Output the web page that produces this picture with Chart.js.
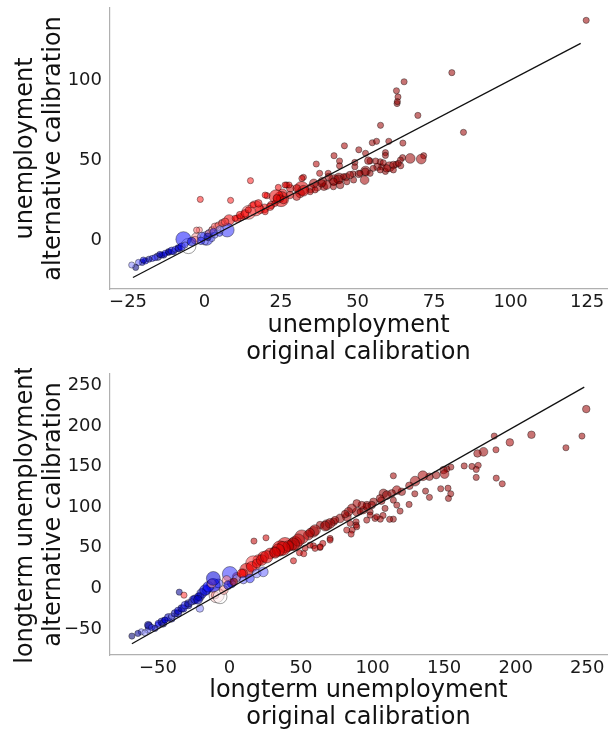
<!DOCTYPE html>
<html><head><meta charset="utf-8">
<script src="https://cdn.jsdelivr.net/npm/chart.js@4/dist/chart.umd.min.js"></script>
<style>
html,body{margin:0;padding:0;background:#fff;}
.box{position:absolute;left:0;width:608px;height:368px;}
</style></head>
<body>
<div class="box" style="top:0"><canvas id="c1" width="608" height="368"></canvas></div>
<div class="box" style="top:368px"><canvas id="c2" width="608" height="368"></canvas></div>
<script>
// ---------- Top panel: unemployment ----------
const topOrig = [
124.7,80.8,65.2,62.7,63.2,62.9,63.0,69.7,84.6,57.5,
60.2,64.8,54.8,56.2,45.7,50.4,52.6,42.3,59.1,59.1,
44.1,44.1,36.5,49.1,49.1,71.6,70.8,67.2,64.7,64.0,
64.1,62.6,60.4,59.1,57.9,56.5,55.1,57.4,54.1,55.9,
52.6,52.3,50.4,48.5,48.7,46.3,43.9,42.3,40.4,40.6,
37.6,38.5,39.0,36.8,35.7,34.6,32.3,31.7,31.2,30.1,
28.0,26.8,27.6,25.5,25.0,23.4,21.8,20.4,19.6,18.1,
16.6,15.0,14.4,13.1,11.8,10.7,8.5,8.0,7.4,5.8,
4.2,2.6,1.5,0.6,-1.4,-1.7,-2.8,-5.3,-6.9,-8.5,
-10.1,-11.7,-13.3,-15.3,-17.1,-19.3,-20.4,-21.6,-22.5,-23.8,
-14.0,-12.9,-11.8,-10.7,-9.6,-8.6,-7.5,-6.4,-3.1,-2.6,
-0.9,0.2,1.2,2.4,3.4,4.5,5.6,6.7,2.4,3.4,
4.9,10.0,11.6,13.2,14.3,15.9,17.6,19.8,21.4,23.0,
24.7,19.8,24.1,53.5,58.4,61.7,63.3,61.7,59.5,57.4,
54.1,52.5,50.8,47.5,45.4,43.7,42.1,46.5,44.3,42.1,
39.9,38.3,36.1,34.5,32.3,31.8,30.1,27.9,26.3,25.8,
23.6,-4.2,-1.2,1.0,3.0,-20.0,-18.2,-16.2,-14.6,5.0];
const topAlt = [
137.3,104.6,98.9,93.3,89.4,85.3,86.5,77.9,67.3,71.7,
61.7,60.6,60.8,61.7,58.9,56.4,54.2,52.7,54.6,52.9,
49.4,46.4,47.5,48.5,45.8,52.7,50.6,51.0,51.5,50.0,
46.4,47.3,45.8,42.9,45.8,45.8,44.8,48.9,49.4,49.4,
43.1,37.5,41.3,41.3,37.5,39.4,38.5,37.5,41.7,39.4,
41.7,36.5,33.3,33.3,35.4,32.3,39.2,32.3,29.2,27.1,
32.3,34.4,34.4,29.2,25.6,27.1,21.9,27.7,19.8,19.2,
19.8,37.1,17.3,15.6,14.2,13.3,24.8,12.5,6.25,10.6,
8.3,6.25,4.2,1.0,25.4,6.25,1.7,-3.75,0.5,-5.2,
-7.3,-7.7,-9.4,-10.4,-11.5,-13.1,-14.0,-14.0,-17.1,-15.6,
-9.4,-8.3,-7.3,-6.7,-5.8,-5.2,-4.2,-3.1,0.0,6.2,
2.1,-1.0,4.2,6.2,8.3,9.4,10.4,11.4,1.0,3.1,
4.2,13.6,15.6,16.7,18.8,21.9,22.9,17.7,20.8,22.9,
26.0,28.1,32.9,49.6,48.3,46.9,47.9,43.8,44.8,43.8,
41.7,42.7,41.7,40.6,39.6,37.9,36.4,36.4,34.4,33.3,
34.4,35.4,31.3,30.2,30.8,38.5,32.3,28.1,34.4,25.0,
26.1,-1.0,-0.5,2.0,5.0,-12.5,-12.0,-11.0,-9.0,6.5];
const topWeight = [
1,1,1,1,1,1,1,1,1,1,
1,1,1,1,1,1,1,1,1,1,
1,1,1,1,1,1,2.5,2.5,1,1,
1,1,2.5,1,1,1.5,1,1,1,1,
2.5,2,1.5,1,1,1.5,3,3,1,1.5,
1,2,1.5,2,2,2,1,5,2,1.5,
1.5,1,1,2,6,5,1.5,1,2,2,
6,1,5,2,1.5,1.5,1,3,5,1.5,
1.5,1.5,1.5,5,1,1,2,6,6,1.5,
1,1,1,1.5,1,1,1,1,1,1,
1,1,1,1.5,1,1,1.5,1,1.5,1,
2,1,1,1,1.5,1,1,1.5,1,1,
1,1,1.5,1.5,1,1,1.5,1,1.5,1,
1.5,1,1,1.5,1,1.5,1,1,1.5,1,
1,1.5,1,1.5,1,2,1.5,1,1.5,1,
2,1.5,1,1,3,1,1.5,1.5,1,1.5,
1.5,2,1.5,1.5,1.5,1,1,1,1,1.5];
// colour value (0 = navy ... 0.5 = white ... 1 = dark red)
const topShade = [
.95,.95,.95,.95,.95,.97,.97,.95,.95,.95,
.95,.95,.95,.95,.92,.95,.95,.92,.95,.97,
.92,.92,.9,.95,.95,.93,.93,.95,.95,.95,
.93,.95,.93,.95,.95,.97,.95,.95,.95,.95,
.97,.93,.97,.95,.95,.95,.95,.93,.9,.95,
.9,.92,.92,.9,.92,.9,.85,.82,.85,.85,
.85,.8,.8,.82,.8,.8,.8,.8,.78,.8,
.7,.72,.66,.75,.75,.72,.72,.78,.3,.62,
.62,.6,.35,.3,.72,.62,.6,.5,.27,.2,
.15,.2,.15,.08,.3,.25,.15,.35,.08,.38,
.2,.25,.1,.2,.3,.15,.25,.35,.62,.65,
.35,.4,.6,.62,.65,.65,.68,.7,.38,.35,
.3,.75,.78,.72,.78,.75,.78,.78,.8,.8,
.8,.75,.78,.95,.95,.95,.95,.95,.95,.95,
.97,.95,.95,.95,.95,.97,.95,.95,.95,.93,
.93,.95,.88,.88,.85,.85,.85,.85,.82,.82,
.82,.2,.3,.15,.3,.2,.1,.3,.15,.4];
const topLine = [-23.4, 122.9];
const topXTicks = [-25, 0, 25, 50, 75, 100, 125];
const topYTicks = [0, 50, 100];

// ---------- Bottom panel: longterm unemployment ----------
const botOrig = [
249.3,246.3,235.1,211.0,195.9,185.0,186.2,177.5,173.3,173.8,
172.4,169.4,164.0,172.4,186.4,190.6,154.7,151.9,149.6,150.3,
144.4,139.7,135.1,129.7,125.7,114.5,137.0,129.5,147.6,152.7,
154.6,153.0,139.7,125.5,119.2,114.5,111.9,107.3,105.4,106.1,
88.5,88.5,85.7,85.0,81.9,70.3,65.2,63.3,58.7,52.8,
48.9,44.7,51.9,107.6,100.6,96.0,93.6,89.0,82.0,77.3,
72.7,68.0,63.3,58.6,55.1,50.5,45.8,43.5,38.8,35.3,
31.8,28.3,23.6,20.1,16.6,12.0,9.6,5.0,0.3,1.5,
-2.0,-7.8,-9.0,-11.3,-16.0,-20.7,-20.7,-25.3,-28.8,-32.3,
-35.1,-31.8,-36.0,-40.6,-45.3,-46.5,-50.0,-56.3,-57.0,-61.6,
-64.0,-68.2,17.1,25.5,-59.1,-56.8,-54.4,-52.1,-49.8,-47.4,
-45.1,-42.8,-40.4,-38.1,-35.8,-33.4,-31.1,-28.8,-26.4,-24.1,
-21.8,-19.4,-17.1,-14.8,-12.4,-10.1,-6.6,-11.3,5.0,8.5,
15.5,19.0,22.5,26.0,9.7,14.3,19.0,23.6,120.4,116.9,
113.4,109.9,105.2,114.5,116.9,99.4,95.9,92.4,88.9,91.3,
98.3,101.7,108.7,85.5,83.1,80.8,73.8,70.3,66.8,59.8,
56.3,48.1,44.6,41.1,37.6,34.1,31.8,84.3,88.9,95.9,
98.3,102.9,70.3,63.3,59.8,56.3,-4.0,-1.0,3.0,-22.0];
const botAlt = [
220.8,187.6,173.2,189.2,179.8,187.6,170.7,168.2,166.2,151.5,
146.5,150.2,150.8,136.7,135.8,128.8,149.4,147.0,145.7,140.8,
139.5,137.5,138.7,132.1,126.4,138.7,119.8,116.5,122.7,123.4,
116.5,110.8,112.1,103.4,95.2,85.3,85.1,89.8,85.3,107.9,
82.0,78.0,71.8,66.9,71.8,61.5,55.4,50.5,52.5,49.6,
43.9,34.0,42.7,117.0,106.7,102.6,96.4,94.3,88.2,86.2,
82.0,78.0,78.0,69.7,65.6,63.5,55.4,53.4,53.4,49.2,
45.1,43.0,38.9,34.8,30.8,22.5,18.5,14.3,17.6,6.2,
10.3,6.2,-8.3,3.7,-2.1,-10.3,-24.7,-14.4,-20.6,-24.7,
-4.6,-8.3,-30.8,-37.0,-39.0,-43.1,-45.1,-46.4,-51.4,-53.4,
-55.4,-58.7,58.3,62.3,-54.7,-45.2,-48.0,-49.3,-43.1,-41.1,
-39.0,-35.7,-34.1,-30.8,-27.6,-24.6,-20.6,-18.5,-16.5,-13.5,
-10.3,-6.2,-2.1,2.0,6.2,-8.3,-10.3,12.3,12.3,18.5,
26.6,30.8,34.9,38.9,10.2,12.3,18.5,20.4,119.0,121.0,
117.0,114.9,110.8,108.7,102.6,102.6,100.5,102.6,104.7,94.3,
94.3,86.2,98.5,98.5,94.3,91.5,84.1,80.0,76.7,71.8,
68.5,59.5,54.6,52.1,49.3,47.2,43.8,80.0,75.9,84.1,
90.3,88.2,59.5,51.2,49.3,53.3,-2.0,4.0,8.0,-14.0];
const botWeight = [
1.5,1,1,1.5,1.5,1,1,2,1.5,1,
1,1,1,1,1,1,1,1,1.5,2,
1.5,1.5,2.5,2.5,1.5,1,1,1,1,1,
1,1,1,1,1,1,1,1,1,1.5,
1,1,1,1,1,1,1,1,1,1,
1,1,1,2,1.5,1.5,1.5,2,2,2,
1.5,3,1.5,3,2.5,5,5,3,6,6,
3,3,3,3,6,5,2,2,6,2,
2,2,6,5,2,2,1.5,2,1.5,1.5,
1,1,1.5,1.5,1,1.5,1,1.5,1,1,
1,1,1,1,1,1.5,1,1,1,1.5,
1,1.5,1,1.5,1.5,1.5,1.5,1.5,1,2,
1.5,2.5,3,3,2,1.5,5,5,1.5,2,
3,2,3,4,1.5,2,2,2.5,1.5,2,
1.5,2,1.5,1,1,1.5,1.5,1.5,1.5,1,
1,1,1,2,2,1.5,1.5,2.5,2.5,3,
2,4,4,3,5,4,3,1,1,1,
1,1,1,1,1,1,2,2,1.5,2];
const botShade = [
.95,.95,.95,.95,.92,.95,.92,.95,.95,.93,
.93,.95,.95,.95,.93,.93,.95,.95,.95,.93,
.95,.95,.92,.93,.93,.93,.97,.95,.95,.95,
.95,.95,.95,.95,.95,.95,.95,.93,.93,.95,
.93,.93,.9,.9,.9,.9,.88,.88,.88,.88,
.85,.85,.85,.97,.95,.93,.95,.93,.93,.95,
.93,.95,.93,.92,.9,.88,.85,.88,.82,.8,
.82,.8,.8,.75,.68,.82,.78,.85,.3,.25,
.62,.35,.55,.22,.3,.15,.38,.2,.15,.25,
.1,.7,.15,.2,.3,.1,.35,.15,.35,.38,
.1,.05,.88,.85,.4,.1,.3,.15,.25,.12,
.25,.15,.4,.12,.2,.12,.3,.1,.35,.15,
.25,.15,.2,.25,.6,.62,.5,.2,.4,.75,
.78,.8,.82,.82,.35,.3,.38,.35,.95,.93,
.97,.97,.95,.95,.95,.95,.95,.93,.93,.95,
.95,.93,.97,.93,.95,.95,.93,.95,.95,.92,
.9,.88,.9,.85,.85,.82,.85,.93,.93,.93,
.93,.93,.9,.88,.88,.88,.6,.2,.9,.15];
const botLine = [-68.2, 247.9];
const botXTicks = [-50, 0, 50, 100, 150, 200, 250];
const botYTicks = [-50, 0, 50, 100, 150, 200, 250];

// ---------- helpers ----------
const FONT = "'DejaVu Sans', sans-serif";
function seismic(t) {
  const st = [[0,0,0,0.3],[0.25,0,0,1],[0.5,1,1,1],[0.75,1,0,0],[1,0.5,0,0]];
  t = Math.max(0, Math.min(1, t));
  for (let i = 1; i < st.length; i++) {
    if (t <= st[i][0]) {
      const a = st[i-1], b = st[i], f = (t - a[0]) / (b[0] - a[0]);
      return [0,1,2].map(k => Math.round(255 * (a[k+1] + f * (b[k+1] - a[k+1]))));
    }
  }
  return [128,0,0];
}
function fmt(v) { return v < 0 ? '\u2212' + Math.abs(v) : String(v); }
function noPad(s) { s.paddingTop = 0; s.paddingBottom = 0; s.paddingLeft = 0; s.paddingRight = 0; }

function makeChart(id, xs, ys, ws, cs, line, xTicks, yTicks, xr, yr, xTitle, yTitle, padTop, xH, titleBottomPad) {
  const pts = xs.map((x, i) => ({x: x, y: ys[i]}));
  return new Chart(document.getElementById(id), {
    type: 'scatter',
    data: {
      datasets: [
        {
          type: 'line',
          data: line.map(v => ({x: v, y: v})),
          borderColor: '#111', borderWidth: 1.3, pointRadius: 0, fill: false, tension: 0
        },
        {
          data: pts,
          pointRadius: c => 3.1 * Math.sqrt(ws[c.dataIndex]),
          backgroundColor: c => { const k = seismic(cs[c.dataIndex]); return `rgba(${k[0]},${k[1]},${k[2]},0.55)`; },
          borderColor: 'rgba(0,0,0,0.55)',
          borderWidth: 0.7
        }
      ]
    },
    options: {
      responsive: false, animation: false, events: [],
      layout: {autoPadding: false, padding: {top: padTop, right: 1, left: 0, bottom: 0}},
      plugins: {legend: {display: false}, tooltip: {enabled: false}},
      scales: {
        x: {
          type: 'linear', min: xr[0], max: xr[1],
          grid: {display: false, drawTicks: false},
          border: {display: true, color: '#b0b0b0', width: 1.2},
          afterBuildTicks: s => { s.ticks = xTicks.map(v => ({value: v})); },
          afterFit: s => { s.height = xH; noPad(s); },
          ticks: {color: '#1a1a1a', font: {family: FONT, size: 18}, padding: 3, maxRotation: 0, autoSkip: false, callback: v => fmt(v)},
          title: {display: true, text: xTitle, color: '#111', font: {family: FONT, size: 24, lineHeight: 1.15}, padding: {top: 0, bottom: titleBottomPad}}
        },
        y: {
          type: 'linear', min: yr[0], max: yr[1],
          grid: {display: false, drawTicks: false},
          border: {display: true, color: '#b0b0b0', width: 1.2},
          afterBuildTicks: s => { s.ticks = yTicks.map(v => ({value: v})); },
          afterFit: s => { s.width = 110; noPad(s); },
          ticks: {color: '#1a1a1a', font: {family: FONT, size: 18}, padding: 8, autoSkip: false, callback: v => fmt(v)},
          title: {display: true, text: yTitle, color: '#111', font: {family: FONT, size: 24, lineHeight: 1.15}, padding: {top: 12, bottom: 0}}
        }
      }
    }
  });
}

makeChart('c1', topOrig, topAlt, topWeight, topShade, topLine, topXTicks, topYTicks,
  [-30.9, 131.5], [-30.6, 145],
  ['unemployment', 'original calibration'], ['unemployment', 'alternative calibration'], 8, 79, 1);
makeChart('c2', botOrig, botAlt, botWeight, botShade, botLine, botXTicks, botYTicks,
  [-83.5, 263.8], [-82, 264],
  ['longterm unemployment', 'original calibration'], ['longterm unemployment', 'alternative calibration'], 6, 81, 4);
</script>
</body></html>
